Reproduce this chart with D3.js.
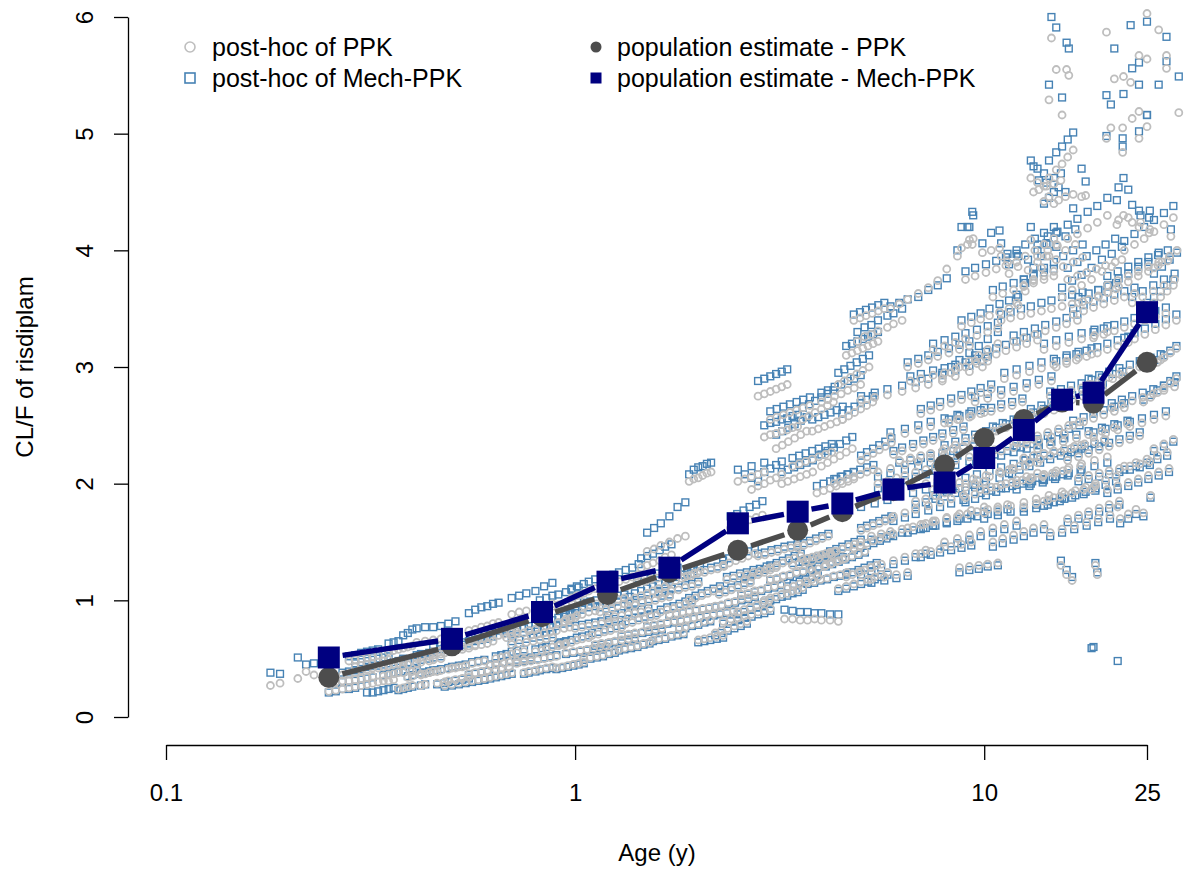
<!DOCTYPE html>
<html>
<head>
<meta charset="utf-8">
<script src="https://cdn.jsdelivr.net/npm/d3@7"></script>
<style>
  html, body { margin: 0; padding: 0; background: #ffffff; }
  svg { display: block; }
  text { font-family: "Liberation Sans", Arial, Helvetica, sans-serif; fill: #000; }
</style>
</head>
<body>
<svg id="chart" width="1184" height="870"></svg>
<script>
// Population estimates of CL/F by age bin
const popAge  = [0.25, 0.5, 0.83, 1.2, 1.7, 2.5, 3.5, 4.5, 6, 8, 10, 12.5, 15.5, 18.5, 25];
const popPPK  = [0.34, 0.61, 0.86, 1.05, 1.24, 1.43, 1.60, 1.76, 1.94, 2.16, 2.39, 2.55, 2.70, 2.69, 3.04];
const popMech = [0.51, 0.67, 0.90, 1.16, 1.28, 1.66, 1.76, 1.83, 1.95, 2.01, 2.22, 2.46, 2.72, 2.78, 3.47];

// Individual post-hoc estimates: one row per subject (observation ages, years)
const subjectAges = [
  [0.18,0.19],[0.21,0.22,0.23],
  [0.25,0.26,0.27,0.28,0.29,0.30],[0.27,0.28,0.29,0.30,0.31,0.32],[0.28,0.29,0.30,0.31,0.32,0.33],
  [0.31,0.32,0.33,0.34,0.35,0.36],[0.33,0.34,0.35,0.36,0.37,0.38],[0.35,0.36,0.37,0.38,0.39,0.40],
  [0.37,0.38,0.39,0.40,0.42,0.43],[0.39,0.40,0.42,0.43,0.44,0.46],[0.41,0.42,0.44,0.45,0.47,0.48],
  [0.41,0.43,0.45,0.47,0.49,0.51],[0.46,0.48,0.49,0.51,0.53,0.55],[0.50,0.52,0.54,0.56,0.58,0.60],
  [0.53,0.55,0.57,0.59,0.61,0.63],[0.55,0.57,0.59,0.61,0.63,0.65],[0.60,0.62,0.64,0.66,0.68,0.70],
  [0.64,0.66,0.68,0.70,0.72,0.75],[0.68,0.70,0.72,0.75,0.77,0.80],[0.70,0.73,0.76,0.80,0.84,0.88],
  [0.75,0.77,0.80,0.82,0.85,0.88],[0.80,0.83,0.85,0.88,0.91,0.94],[0.85,0.88,0.91,0.94,0.97,1.00],
  // 1-2 years
  [0.90,0.93,0.96,0.99,1.02,1.05],[0.92,0.95,0.98,1.01,1.04,1.08],[0.95,0.98,1.01,1.04,1.08,1.12],
  [0.98,1.01,1.05,1.08,1.12,1.16],[1.05,1.09,1.13,1.17,1.21,1.25],[1.10,1.14,1.18,1.22,1.26,1.30],
  [1.15,1.19,1.23,1.27,1.32,1.36],[1.20,1.24,1.28,1.33,1.38,1.43],[1.28,1.32,1.37,1.42,1.47,1.52],
  [1.33,1.38,1.43,1.48,1.53,1.58],[1.40,1.45,1.50,1.55,1.60,1.66],[1.45,1.50,1.55,1.61,1.66,1.72],
  [1.55,1.60,1.66,1.72,1.78,1.84],[1.62,1.68,1.74,1.80,1.86,1.93],[1.70,1.76,1.82,1.88,1.95,2.02],
  [1.80,1.86,1.93,2.00,2.07,2.14],[1.90,1.97,2.04,2.11,2.18,2.26],[1.90,1.95,2.00,2.05,2.10,2.15],
  [1.50,1.56,1.62,1.70,1.78,1.86],[2.00,2.07,2.14,2.22,2.30],[2.50,2.60,2.70,2.80,2.90],
  // 2-6 years
  [2.20,2.28,2.36,2.45,2.54,2.63],[2.25,2.33,2.41,2.50,2.59,2.68],[2.30,2.38,2.47,2.56,2.65,2.75],
  [2.40,2.49,2.58,2.67,2.77,2.87],[2.50,2.59,2.68,2.78,2.88,2.98],[2.60,2.70,2.80,2.90,3.00,3.10],
  [2.70,2.80,2.90,3.00,3.10,3.20],[2.80,2.90,3.00,3.10,3.20,3.30],[3.00,3.11,3.22,3.33,3.44,3.56],
  [3.10,3.21,3.32,3.44,3.56,3.68],[3.30,3.42,3.54,3.66,3.79,3.92],[3.50,3.62,3.75,3.88,4.02,4.16],
  [3.60,3.73,3.86,4.00,4.14,4.28],[3.80,3.93,4.07,4.21,4.36,4.51],[4.00,4.14,4.29,4.44,4.60,4.76],
  [4.20,4.35,4.50,4.66,4.82,4.99],[4.40,4.55,4.71,4.88,5.05,5.23],[4.60,4.76,4.93,5.10,5.28,5.46],
  [4.80,4.97,5.14,5.32,5.51,5.70],[5.00,5.17,5.35,5.54,5.73,5.93],[3.20,3.31,3.43,3.55,3.68,3.81],
  [3.80,3.93,4.07,4.21,4.36,4.51],[4.50,4.66,4.82,4.99,5.16,5.34],[5.00,5.17,5.35,5.54,5.73,5.93],
  [3.25,3.40,3.55,3.70,3.85,4.00,4.20,4.40],
  // 6-30 years
  [5.9,6.2,6.5,6.9,7.3,7.7,8.1,8.6,9.1,9.4],[8.8,9.2,9.35,9.9,10.4,10.9,11.0,11.4],
  [12.0,12.6,13.2,13.8,14.4,15.0],[4.9,5.1,5.3,5.5,5.8,6.0,6.3],[7.9,8.3,8.7,9.2,9.7,10.2,10.8],
  [8.8,9.3,9.8,10.3,10.9,11.5,12.1],[11.0,11.6,12.3,13.0,13.8,14.6,15.5,16.4,17.4],
  [5.0,5.4,5.8,6.3,6.8,7.3,7.9,8.5,9.2,9.9],[5.9,6.4,6.9,7.4,8.0,8.6,9.3,10.0],
  [9.5,10.2,11.0,11.8,12.7,13.6,14.6],[5.0,5.4,5.8,6.2,6.7,7.2,7.7],[5.5,5.9,6.4,6.9,7.4,8.0,8.6],
  [6.5,7.0,7.5,8.1,8.7,9.3,10.0],[7.5,8.1,8.7,9.4,10.1,10.9,11.7],[8.5,9.2,9.9,10.6,11.4,12.3,13.2],
  [10.0,10.8,11.6,12.5,13.4,14.4,15.5],[12.0,12.9,13.9,14.9,16.0,17.2],[11.0,11.8,12.7,13.6,14.6,15.7],
  [5.0,5.3,5.6,6.0,6.4,6.8,7.2],[5.3,5.7,6.1,6.5],[8.7,9.2,9.7,10.2,10.8],[15.4,15.9,16.4],
  [13.5,14.5,15.6,16.8,18.0,19.4,20.8,22.4],[11.2,12.0,12.9,13.8,14.8,15.9,17.0,18.3],
  [14.0,15.0,16.1,17.3,18.6,20.0],[13.0,14.0,15.0,16.1,17.3,18.6,20.0],
  [18.5,19.8,21.2,22.7,24.3,26.0,27.8],[22.0,23.5,25.0,26.5,28.0],[21.5,22.5,23.5],
  [6.0,6.4,6.8,7.3,7.8,8.3,8.9],[8.0,8.6,9.2,9.8,10.5,11.2,12.0],[9.0,9.6,10.3,11.0,11.8,12.6,13.5],
  [12.5,13.4,14.3,15.3,16.4,17.5,18.7],[14.5,15.5,16.6,17.8,19.0,20.3],
  [18.3,18.5],[21.2],[18.7,18.9],
  [13.0,13.5,14.0,14.4,15.0,15.5,16.0,16.5],[14.0,14.4,14.8,15.2,15.8,16.5,17.3,17.7],
  [13.2,13.6,14.2,14.8,15.4],
  [12.5,13.2,14.0,14.8,15.6,16.5,17.4],[16.0,16.9,17.8,18.8,19.8,20.9],[12.0,12.6,13.0,13.3,14.0,14.8],
  [17.0,18.0,19.0,20.0,21.0],
  [25.0,26.0,27.0,28.0,29.0],[26.0,27.2,28.4,29.6],[25.5,26.5,27.5,28.5,29.5],
  [24.5,25.5,26.5,27.5,28.5,29.5],[26.0,27.5,29.0],[24.5,25.5],
  [14.6,15.0],[15.9,16.1],[14.4,15.5],[25.0],[22.8,23.0],[19.9,20.8],[26.7,27.9],[23.9,25.0],
  [27.9,29.9],[21.9,23.9],[20.4,21.8],[23.9,25.0],[19.9,21.8],
  [21.1,21.3,21.9,22.5,23.0],[23.9,24.1,25.3,25.4,28.6],
  // further infants
  [0.26,0.27,0.28,0.29,0.30,0.31,0.32],[0.29,0.30,0.31,0.32,0.33,0.34,0.35],[0.34,0.35,0.36,0.37,0.38,0.40,0.41],
  [0.38,0.39,0.41,0.42,0.44,0.45,0.47],[0.42,0.44,0.45,0.47,0.49,0.51,0.53],[0.45,0.47,0.49,0.51,0.53,0.55,0.57],
  [0.48,0.50,0.52,0.54,0.56,0.58,0.60],[0.55,0.57,0.59,0.61,0.64,0.66,0.69],[0.58,0.60,0.62,0.65,0.67,0.70,0.72],
  [0.62,0.64,0.67,0.69,0.72,0.75,0.78],[0.70,0.73,0.76,0.79,0.82,0.85,0.88],[0.72,0.75,0.78,0.81,0.84,0.87,0.90],
  [0.78,0.81,0.84,0.87,0.90,0.94,0.97],[0.82,0.85,0.88,0.91,0.95,0.98,1.02],
  // further 1-2 years
  [0.95,0.99,1.03,1.07,1.11,1.15,1.19],[1.00,1.04,1.08,1.12,1.16,1.21,1.25],[1.05,1.09,1.13,1.18,1.22,1.27,1.32],
  [1.12,1.16,1.21,1.25,1.30,1.35,1.40],[1.20,1.25,1.30,1.35,1.40,1.45,1.51],[1.30,1.35,1.40,1.46,1.51,1.57,1.63],
  [1.35,1.40,1.46,1.51,1.57,1.63,1.70],[1.42,1.48,1.53,1.59,1.65,1.72,1.78],[1.50,1.56,1.62,1.68,1.75,1.81,1.88],
  [1.60,1.66,1.72,1.79,1.86,1.93,2.00],[1.70,1.77,1.83,1.90,1.98,2.05,2.13],[1.85,1.92,1.99,2.07,2.15,2.23,2.31],
  [1.95,2.02,2.10,2.18,2.26,2.35,2.44],
  // further 2-6 years
  [2.20,2.28,2.37,2.46,2.55,2.65,2.75],[2.35,2.44,2.53,2.63,2.73,2.83,2.94],[2.55,2.65,2.75,2.85,2.96,3.07,3.19],
  [2.80,2.91,3.02,3.13,3.25,3.37,3.50],[3.00,3.11,3.23,3.35,3.48,3.61,3.75],[3.40,3.53,3.66,3.80,3.94,4.09,4.24],
  [3.70,3.84,3.98,4.13,4.29,4.45,4.62],[4.10,4.25,4.41,4.58,4.75,4.93,5.11],[3.00,3.11,3.23,3.35,3.48,3.61,3.75],
  [3.40,3.53,3.66,3.80,3.94,4.09,4.24],[4.00,4.15,4.31,4.47,4.64,4.81,4.99],[4.30,4.46,4.63,4.80,4.98,5.17,5.36],
  [4.80,4.98,5.17,5.36,5.56,5.77,5.99],
  [2.3,2.4,2.5,2.6,2.7,2.8,2.9,3.0],[2.9,3.0,3.1,3.2,3.3,3.4,3.5,3.6],[3.6,3.7,3.8,3.9,4.0,4.1,4.2,4.3],
  [4.4,4.6,4.8,5.0,5.2,5.4,5.6,5.8],
  [2.9,3.0,3.1,3.2,3.3,3.4,3.5],[3.9,4.05,4.2,4.35,4.5,4.65,4.8],[4.6,4.75,4.9,5.05,5.2,5.35,5.5],
  // further 6-30 years
  [5.5,5.8,6.1,6.4,6.8,7.2,7.6,8.0],[6.0,6.3,6.7,7.1,7.5,7.9,8.4,8.9],[6.8,7.2,7.6,8.0,8.5,9.0,9.5,10.0],
  [7.0,7.4,7.8,8.3,8.8,9.3,9.8,10.4],[8.0,8.5,9.0,9.5,10.1,10.7,11.3,12.0],[9.0,9.5,10.1,10.7,11.3,12.0,12.7,13.5],
  [10.5,11.1,11.8,12.5,13.2,14.0,14.8,15.7],[11.5,12.2,12.9,13.7,14.5,15.4,16.3,17.3],
  [13.0,13.8,14.6,15.5,16.4,17.4,18.4,19.5],[14.0,14.8,15.7,16.7,17.7,18.7,19.8,21.0],
  [16.0,17.0,18.0,19.1,20.2,21.4,22.7,24.0],[18.0,19.1,20.2,21.4,22.7,24.0,25.5,27.0],
  [20.0,21.2,22.5,23.8,25.2,26.7,28.3],[15.0,15.9,16.8,17.8,18.9,20.0,21.2,22.5],
  [18.5,19.6,20.8,22.0,23.3,24.7,26.2,27.8],[20.0,21.2,22.5,23.8,25.2,26.7],
  [9.5,10.1,10.7,11.3,12.0,12.7,13.5],[10.5,11.1,11.8,12.5,13.2,14.0,14.8],[6.5,6.9,7.3,7.7,8.2,8.7,9.2],
  [7.0,7.4,7.8,8.3,8.8,9.3],[10.5,11.1,11.8,12.5,13.2,14.0],[16.5,17.5,18.5,19.6,20.8,22.0],
  [22.0,23.3,24.7,26.2,27.8,29.5],[12.0,12.7,13.5,14.3,15.2,16.1,17.1],
  [11.5,12.1,12.8,13.5,14.2,15.0,15.8,16.7],[13.5,14.3,15.1,16.0,16.9,17.9,18.9,20.0],
  [15.5,16.4,17.3,18.3,19.4,20.5,21.7],[19.0,20.1,21.3,22.5,23.8,25.2,26.6,28.1],
  [22.0,23.3,24.6,26.0,27.5,29.0],
  [7.2,7.6,8.1,8.6,9.1,9.6,10.2,10.8,11.4],[9.8,10.4,11.0,11.7,12.4,13.1,13.9,14.7,15.6],
  [6.2,6.6,7.0,7.4,7.9,8.4,8.9,9.4,10.0],[12.5,13.2,14.0,14.8,15.7,16.6,17.6,18.6,19.7],
  [8.2,8.7,9.2,9.8,10.4,11.0,11.7,12.4],[14.5,15.4,16.3,17.3,18.3,19.4,20.6,21.8],
  [6.6,7.0,7.5,8.0,8.5,9.0,9.6,10.2],[11.8,12.5,13.3,14.1,15.0,15.9,16.9],
  [16.5,17.5,18.5,19.6,20.8,22.0,23.3],[7.5,8.0,8.5,9.0,9.6,10.2,10.8],
  [17.0,18.0,19.1,20.2,21.4,22.7,24.0,25.4],[16.0,17.0,18.0,19.1,20.2,21.4],
  [20.5,21.7,23.0,24.4,25.9,27.5,29.2],[23.0,24.4,25.9,27.5,29.2],
  [5.3,5.6,5.9,6.3,6.7,7.1,7.5],[9.0,9.5,10.1,10.7,11.3,12.0]
];

// Post-hoc CL/F from the PPK model, same subject order
const clPPK = [
  [0.27,0.29],[0.33,0.39,0.36],
  [.22,.23,.24,.25,.26,.27],[.36,.37,.38,.40,.41,.42],[.48,.49,.50,.51,.52,.53],
  [.28,.29,.30,.31,.31,.32],[.42,.43,.44,.45,.46,.47],[.56,.57,.58,.59,.60,.61],
  [.24,.25,.26,.27,.27,.28],[.34,.35,.36,.37,.38,.39],[.50,.51,.52,.53,.54,.55],
  [.64,.65,.66,.67,.68,.70],[.29,.30,.31,.32,.33,.34],[.42,.43,.44,.46,.47,.48],
  [.58,.59,.61,.62,.63,.65],[.74,.75,.77,.78,.80,.81],[.33,.34,.35,.36,.37,.38],
  [.50,.51,.52,.54,.55,.56],[.68,.69,.71,.72,.74,.75],[.88,.90,.91,.93,.95,.97],
  [.38,.39,.40,.41,.42,.43],[.56,.57,.58,.60,.61,.62],[.78,.79,.81,.82,.84,.85],
  // 1-2 years
  [.42,.43,.44,.45,.46,.47],[.62,.63,.64,.66,.67,.68],[.84,.85,.87,.88,.90,.91],
  [1.02,1.04,1.06,1.08,1.10,1.12],[.50,.51,.52,.53,.55,.56],[.70,.71,.73,.74,.76,.77],
  [.90,.92,.93,.95,.97,.99],[1.12,1.14,1.16,1.18,1.20,1.22],[.58,.59,.60,.61,.63,.64],
  [.80,.81,.83,.84,.86,.87],[1.02,1.04,1.06,1.08,1.10,1.12],[1.28,1.30,1.32,1.34,1.37,1.39],
  [.66,.67,.68,.70,.71,.72],[.90,.92,.93,.95,.97,.98],[1.15,1.17,1.19,1.21,1.23,1.25],
  [.76,.77,.79,.80,.82,.83],[1.00,1.02,1.04,1.06,1.08,1.10],[2.02,2.04,2.05,2.07,2.09,2.10],
  [1.42,1.44,1.47,1.50,1.53,1.55],[.66,.67,.68,.69,.70],[2.02,2.04,2.06,2.08,2.10],
  // 2-6 years
  [.72,.74,.76,.78,.80,.82],[1.05,1.07,1.09,1.11,1.13,1.15],[1.30,1.32,1.34,1.36,1.38,1.40],
  [1.62,1.64,1.66,1.69,1.71,1.73],[.90,.92,.94,.96,.98,1.00],[1.18,1.20,1.22,1.24,1.26,1.28],
  [1.95,1.98,2.00,2.03,2.05,2.08],[2.75,2.77,2.79,2.81,2.83,2.85],[1.28,1.30,1.32,1.34,1.36,1.38],
  [2.30,2.33,2.36,2.39,2.42,2.45],[1.10,1.12,1.14,1.16,1.18,1.20],[1.45,1.47,1.49,1.51,1.53,1.55],
  [2.55,2.58,2.61,2.64,2.67,2.70],[1.25,1.27,1.29,1.31,1.33,1.35],[2.15,2.18,2.21,2.24,2.27,2.30],
  [1.40,1.42,1.44,1.46,1.48,1.50],[2.85,2.88,2.91,2.94,2.97,3.00],[1.20,1.22,1.24,1.26,1.28,1.30],
  [3.40,3.42,3.44,3.46,3.48,3.50],[1.60,1.62,1.64,1.66,1.68,1.70],[2.00,2.02,2.04,2.06,2.08,2.10],
  [2.45,2.47,2.49,2.51,2.53,2.55],[2.55,2.58,2.61,2.64,2.67,2.70],[2.20,2.23,2.26,2.29,2.32,2.35],
  [.84,.84,.83,.83,.84,.83,.83,.82],
  // 6-30 years
  [3.50,3.54,3.58,3.63,3.68,3.74,3.84,3.95,4.05,4.10],[4.02,4.09,4.05,3.98,4.00,4.02,3.95,3.90],
  [3.55,3.65,3.75,3.85,3.95,4.05],[3.22,3.26,3.28,3.31,3.34,3.37,3.40],[2.90,2.95,3.00,3.05,3.10,3.15,3.20],
  [3.35,3.38,3.41,3.44,3.47,3.50,3.53],[3.40,3.42,3.44,3.46,3.48,3.50,3.52,3.54,3.56],
  [2.72,2.74,2.76,2.79,2.82,2.85,2.88,2.92,2.96,3.00],[2.40,2.43,2.46,2.49,2.52,2.55,2.58,2.61],
  [2.70,2.73,2.76,2.79,2.82,2.85,2.88],[1.85,1.88,1.91,1.94,1.97,2.00,2.03],[2.10,2.13,2.16,2.19,2.22,2.25,2.28],
  [1.62,1.65,1.68,1.71,1.74,1.77,1.80],[1.95,1.98,2.01,2.04,2.07,2.10,2.13],[2.20,2.23,2.26,2.29,2.32,2.35,2.38],
  [1.75,1.78,1.81,1.84,1.87,1.90,1.93],[2.00,2.03,2.06,2.09,2.12,2.15],[2.28,2.31,2.34,2.37,2.40,2.43],
  [1.25,1.28,1.31,1.34,1.37,1.40,1.43],[1.18,1.20,1.22,1.24],[1.28,1.29,1.30,1.31,1.32],[1.30,1.22,1.17],
  [2.30,2.33,2.36,2.39,2.42,2.45,2.48,2.51],[2.90,2.93,2.96,2.99,3.02,3.05,3.08,3.11],
  [3.15,3.18,3.21,3.24,3.27,3.30],[2.05,2.08,2.11,2.14,2.17,2.20,2.23],
  [2.40,2.43,2.46,2.49,2.52,2.55,2.58],[2.15,2.18,2.21,2.24,2.27],[1.70,1.74,1.78],
  [1.72,1.75,1.78,1.81,1.84,1.87,1.90],[1.50,1.53,1.56,1.59,1.62,1.65,1.68],[2.00,2.03,2.06,2.09,2.12,2.15,2.18],
  [1.80,1.83,1.86,1.89,1.92,1.95,1.98],[1.58,1.61,1.64,1.67,1.70,1.73],
  [1.95,1.97],[1.80],[1.30,1.22],
  [4.62,4.58,4.55,4.62,4.69,4.74,4.80,4.86],[4.42,4.46,4.40,4.43,4.46,4.48,4.46,4.47],
  [4.50,4.52,4.55,4.57,4.60],
  [3.70,3.74,3.78,3.82,3.86,3.90,3.94],[3.75,3.78,3.81,3.84,3.87,3.90],[3.90,3.95,4.09,4.00,4.05,4.10],
  [3.55,3.58,3.61,3.64,3.67],
  [3.50,3.55,3.60,3.65,3.70],[3.85,3.90,3.95,4.00],[3.00,3.04,3.08,3.12,3.16],
  [2.70,2.74,2.78,2.82,2.86,2.90],[2.30,2.34,2.38],[1.75,1.90],
  [5.82,5.55],[5.55,5.50],[5.29,5.16],[6.03],[5.44,5.13],[5.87,5.47],[5.89,5.67],[5.67,5.64],
  [5.56,5.18],[5.49,5.19],[5.05,4.84],[4.96,5.06],[4.96,5.05],
  [4.22,4.26,4.30,4.28,4.24],[4.20,4.24,4.15,4.18,4.12],
  // further infants
  [.30,.31,.31,.32,.33,.34,.35],[.43,.44,.45,.46,.47,.48,.49],[.35,.36,.37,.38,.38,.39,.40],
  [.44,.45,.46,.47,.48,.49,.50],[.37,.38,.39,.40,.41,.42,.43],[.56,.57,.58,.59,.60,.61,.62],
  [.27,.28,.29,.30,.31,.32,.33],[.37,.38,.39,.40,.41,.42,.43],[.66,.67,.68,.70,.71,.72,.73],
  [.44,.45,.46,.47,.48,.49,.50],[.62,.63,.64,.65,.66,.67,.68],[.46,.47,.48,.49,.50,.51,.52],
  [.70,.71,.72,.73,.74,.76,.77],[.92,.93,.95,.96,.98,.99,1.01],
  // further 1-2 years
  [.55,.56,.57,.58,.59,.60,.61],[.76,.77,.78,.79,.80,.81,.82],[.95,.96,.97,.98,1.00,1.01,1.02],
  [.62,.63,.64,.65,.66,.67,.68],[.85,.86,.87,.88,.89,.90,.91],[.70,.71,.72,.73,.74,.75,.76],
  [.95,.96,.98,.99,1.00,1.02,1.03],[1.15,1.16,1.18,1.19,1.21,1.22,1.24],[.78,.79,.80,.81,.82,.83,.84],
  [1.05,1.06,1.08,1.09,1.11,1.12,1.14],[.88,.89,.90,.91,.92,.93,.94],[1.20,1.21,1.23,1.24,1.26,1.27,1.29],
  [.85,.86,.87,.88,.89,.90,.91],
  // further 2-6 years
  [.95,.96,.98,.99,1.01,1.02,1.04],[1.18,1.19,1.21,1.22,1.24,1.25,1.27],[1.05,1.06,1.08,1.09,1.11,1.12,1.14],
  [1.38,1.39,1.41,1.42,1.44,1.45,1.47],[1.18,1.19,1.21,1.22,1.24,1.25,1.27],[1.30,1.31,1.33,1.34,1.36,1.37,1.39],
  [1.15,1.16,1.18,1.19,1.21,1.22,1.24],[1.30,1.32,1.34,1.36,1.38,1.40,1.42],[2.55,2.57,2.59,2.61,2.63,2.65,2.67],
  [2.15,2.17,2.19,2.21,2.23,2.25,2.27],[2.70,2.72,2.75,2.77,2.80,2.82,2.85],[2.00,2.02,2.04,2.06,2.08,2.10,2.12],
  [1.45,1.47,1.49,1.51,1.53,1.55,1.57],
  [.82,.84,.85,.87,.88,.90,.91,.93],[1.00,1.02,1.03,1.05,1.06,1.08,1.09,1.11],[1.35,1.36,1.37,1.38,1.39,1.40,1.41,1.42],
  [1.10,1.12,1.14,1.16,1.18,1.20,1.22,1.24],
  [2.40,2.42,2.43,2.45,2.46,2.48,2.49],[1.92,1.94,1.96,1.98,2.00,2.02,2.04],[3.10,3.12,3.14,3.16,3.18,3.20,3.22],
  // further 6-30 years
  [2.00,2.02,2.05,2.07,2.10,2.12,2.15,2.17],[2.25,2.28,2.31,2.34,2.37,2.40,2.43,2.46],[1.85,1.87,1.90,1.92,1.95,1.97,2.00,2.02],
  [2.60,2.63,2.66,2.69,2.72,2.75,2.78,2.81],[2.30,2.33,2.36,2.39,2.42,2.45,2.48,2.51],[1.88,1.91,1.94,1.97,2.00,2.03,2.06,2.09],
  [2.45,2.48,2.51,2.54,2.57,2.60,2.63,2.66],[2.12,2.15,2.18,2.21,2.24,2.27,2.30,2.33],
  [2.60,2.63,2.66,2.69,2.72,2.75,2.78,2.81],[1.85,1.88,1.91,1.94,1.97,2.00,2.03,2.06],
  [2.20,2.23,2.26,2.29,2.32,2.35,2.38,2.41],[2.85,2.88,2.91,2.94,2.97,3.00,3.03,3.06],
  [1.95,1.98,2.01,2.04,2.07,2.10,2.13],[3.00,3.03,3.06,3.09,3.12,3.15,3.18,3.21],
  [3.25,3.28,3.31,3.34,3.37,3.40,3.43,3.46],[3.70,3.74,3.78,3.82,3.86,3.90],
  [3.05,3.08,3.11,3.14,3.17,3.20,3.23],[3.60,3.63,3.66,3.69,3.72,3.75,3.78],[3.00,3.03,3.06,3.09,3.12,3.15,3.18],
  [1.40,1.42,1.44,1.46,1.48,1.50],[1.50,1.53,1.56,1.59,1.62,1.65],[2.50,2.53,2.56,2.59,2.62,2.65],
  [3.20,3.24,3.28,3.32,3.36,3.40],[2.35,2.38,2.41,2.44,2.47,2.50,2.53],
  [3.80,3.86,3.83,3.90,3.95,3.92,4.00,4.05],[3.95,4.00,4.04,4.10,4.14,4.19,4.24,4.30],
  [3.60,3.66,3.70,3.75,3.82,3.86,3.92],[3.60,3.64,3.69,3.73,3.78,3.82,3.87,3.91],
  [4.00,4.05,4.10,4.16,4.22,4.28],
  [1.66,1.68,1.70,1.72,1.74,1.76,1.78,1.80,1.82],[1.95,1.97,1.99,2.01,2.03,2.05,2.07,2.09,2.11],
  [2.20,2.22,2.24,2.26,2.28,2.30,2.32,2.34,2.36],[2.22,2.24,2.26,2.28,2.30,2.32,2.34,2.36,2.38],
  [2.52,2.55,2.57,2.60,2.62,2.65,2.67,2.70],[2.75,2.77,2.80,2.82,2.85,2.87,2.90,2.92],
  [2.88,2.90,2.93,2.95,2.98,3.00,3.03,3.05],[3.22,3.25,3.28,3.31,3.34,3.37,3.40],
  [3.45,3.48,3.51,3.54,3.57,3.60,3.63],[3.15,3.18,3.21,3.24,3.27,3.30,3.33],
  [2.05,2.07,2.09,2.11,2.13,2.15,2.17,2.19],[1.70,1.73,1.76,1.79,1.82,1.85],
  [2.65,2.68,2.71,2.74,2.77,2.80,2.83],[3.55,3.60,3.65,3.70,3.75],
  [1.55,1.57,1.59,1.61,1.63,1.65,1.67],[3.75,3.78,3.81,3.84,3.87,3.90]
];

// Post-hoc CL/F from the Mech-PPK model, same subject order
const clMech = [
  [0.38,0.37],[0.51,0.45,0.46],
  [.21,.22,.24,.24,.25,.27],[.38,.39,.40,.41,.43,.44],[.52,.53,.55,.56,.57,.58],
  [.21,.21,.22,.23,.24,.25],[.44,.45,.46,.47,.48,.50],[.63,.64,.65,.70,.72,.75],
  [.23,.24,.25,.26,.27,.28],[.35,.36,.37,.38,.39,.40],[.53,.54,.55,.56,.58,.59],
  [.76,.77,.77,.78,.80,.82],[.28,.29,.30,.31,.32,.33],[.43,.44,.45,.47,.48,.49],
  [.62,.63,.65,.66,.67,.69],[.89,.92,.94,.95,.97,.98],[.32,.33,.34,.35,.36,.37],
  [.52,.53,.54,.56,.57,.58],[.72,.73,.75,.76,.78,.79],[1.02,1.04,1.06,1.08,1.12,1.15],
  [.37,.38,.39,.40,.41,.42],[.58,.59,.60,.62,.63,.64],[.82,.83,.85,.86,.88,.89],
  // 1-2 years
  [.41,.42,.43,.44,.45,.46],[.64,.65,.66,.68,.69,.70],[.88,.89,.91,.92,.94,.95],
  [1.10,1.12,1.14,1.16,1.18,1.21],[.49,.50,.51,.52,.54,.55],[.72,.73,.75,.76,.78,.79],
  [.94,.96,.97,.99,1.01,1.03],[1.20,1.22,1.24,1.26,1.28,1.31],[.57,.58,.59,.60,.62,.63],
  [.82,.83,.85,.86,.88,.89],[1.06,1.08,1.10,1.12,1.14,1.16],[1.36,1.38,1.40,1.43,1.46,1.48],
  [.65,.66,.67,.69,.70,.71],[.92,.94,.95,.97,.99,1.00],[1.18,1.20,1.22,1.24,1.27,1.29],
  [.75,.76,.78,.79,.81,.82],[1.02,1.04,1.06,1.08,1.10,1.12],[2.08,2.12,2.14,2.15,2.17,2.18],
  [1.58,1.62,1.66,1.72,1.80,1.84],[.64,.65,.66,.67,.68],[2.12,2.08,2.15,2.02,2.18],
  // 2-6 years
  [.70,.72,.74,.76,.78,.80],[1.07,1.09,1.11,1.13,1.15,1.17],[1.34,1.36,1.38,1.40,1.42,1.45],
  [1.72,1.74,1.77,1.80,1.82,1.85],[.88,.90,.92,.94,.96,.98],[1.20,1.22,1.24,1.26,1.28,1.30],
  [2.05,2.08,2.10,2.13,2.16,2.19],[2.88,2.90,2.92,2.94,2.96,2.98],[1.30,1.32,1.34,1.36,1.38,1.40],
  [2.42,2.45,2.48,2.51,2.54,2.57],[1.12,1.14,1.16,1.18,1.20,1.22],[1.47,1.49,1.51,1.53,1.55,1.57],
  [2.65,2.68,2.71,2.74,2.77,2.80],[1.27,1.29,1.31,1.33,1.35,1.37],[2.25,2.28,2.31,2.34,2.37,2.40],
  [1.42,1.44,1.46,1.48,1.50,1.52],[2.95,2.98,3.01,3.04,3.07,3.10],[1.22,1.24,1.26,1.28,1.30,1.32],
  [3.45,3.47,3.49,3.51,3.53,3.55],[1.62,1.64,1.66,1.68,1.70,1.72],[2.10,2.12,2.14,2.16,2.18,2.20],
  [2.55,2.57,2.59,2.61,2.63,2.66],[2.60,2.63,2.66,2.69,2.72,2.75],[2.24,2.27,2.30,2.33,2.36,2.39],
  [.92,.91,.90,.90,.89,.89,.88,.88],
  // 6-30 years
  [3.52,3.55,3.58,3.60,3.66,3.70,3.76,4.00,4.20,4.30],[4.20,4.20,4.33,4.06,4.15,4.17,4.06,3.97],
  [3.62,3.72,3.85,3.95,4.05,4.15],[3.30,3.34,3.36,3.40,3.44,3.46,3.50],[2.95,3.00,3.06,3.12,3.18,3.24,3.30],
  [3.40,3.43,3.46,3.50,3.54,3.57,3.60],[3.45,3.47,3.50,3.52,3.55,3.57,3.60,3.62,3.64],
  [2.75,2.78,2.81,2.84,2.87,2.90,2.93,2.97,3.01,3.05],[2.44,2.47,2.50,2.53,2.56,2.59,2.62,2.65],
  [2.74,2.77,2.80,2.83,2.86,2.89,2.92],[1.80,1.83,1.86,1.89,1.92,1.95,1.98],[2.06,2.09,2.12,2.15,2.18,2.21,2.24],
  [1.58,1.61,1.64,1.67,1.70,1.73,1.76],[1.90,1.93,1.96,1.99,2.02,2.05,2.08],[2.16,2.19,2.22,2.25,2.28,2.31,2.34],
  [1.70,1.73,1.76,1.79,1.82,1.85,1.88],[1.95,1.98,2.01,2.04,2.07,2.10],[2.24,2.27,2.30,2.33,2.36,2.39],
  [1.22,1.25,1.28,1.31,1.34,1.37,1.40],[1.15,1.17,1.19,1.21],[1.24,1.26,1.27,1.29,1.30],[1.34,1.26,1.20],
  [2.33,2.36,2.39,2.42,2.45,2.48,2.51,2.54],[2.95,2.98,3.01,3.04,3.07,3.10,3.13,3.16],
  [3.20,3.23,3.26,3.29,3.32,3.35],[2.00,2.03,2.06,2.09,2.12,2.15,2.18],
  [2.44,2.47,2.50,2.53,2.56,2.59,2.62],[2.12,2.15,2.18,2.21,2.24],[1.66,1.70,1.74],
  [1.68,1.71,1.74,1.77,1.80,1.83,1.86],[1.46,1.49,1.52,1.55,1.58,1.61,1.64],[2.05,2.08,2.11,2.14,2.17,2.20,2.23],
  [1.76,1.79,1.82,1.85,1.88,1.91,1.94],[1.55,1.58,1.61,1.64,1.67,1.70],
  [0.59,0.60],[0.48],[1.32,1.24],
  [4.77,4.70,4.66,4.77,4.84,4.89,4.95,5.01],[4.40,4.45,4.50,4.54,4.50,4.36,4.70,4.59],
  [4.72,4.60,4.58,4.62,4.66],
  [3.75,3.80,3.85,3.90,3.95,4.00,4.05],[3.85,3.90,3.95,4.00,4.05,4.10],[4.00,4.05,4.20,4.10,4.15,4.20],
  [3.60,3.63,3.66,3.69,3.72],
  [3.55,3.60,3.65,3.70,3.75],[3.80,3.86,3.92,3.98],[3.02,3.06,3.10,3.14,3.18],
  [2.72,2.76,2.80,2.84,2.88,2.92],[2.28,2.32,2.36],[1.72,1.88],
  [6.00,5.91],[5.78,5.73],[5.42,5.31],[5.96],[5.93,5.56],[5.33,5.73],[5.42,5.83],[5.61,5.16],
  [5.62,5.49],[5.34,5.42],[5.25,4.96],[5.02,5.16],[4.98,4.89],
  [4.43,4.54,4.62,4.52,4.39],[4.34,4.30,4.28,4.34,4.18],
  // further infants
  [.29,.30,.31,.31,.32,.33,.34],[.46,.47,.48,.49,.50,.51,.52],[.36,.37,.38,.39,.39,.40,.41],
  [.46,.47,.48,.49,.50,.51,.52],[.38,.39,.40,.41,.42,.43,.44],[.60,.61,.62,.63,.64,.65,.66],
  [.26,.27,.28,.29,.30,.31,.32],[.36,.37,.38,.39,.40,.41,.42],[.70,.71,.72,.74,.75,.76,.77],
  [.45,.46,.47,.48,.49,.50,.51],[.65,.66,.67,.68,.69,.70,.71],[.47,.48,.49,.50,.51,.52,.53],
  [.74,.75,.76,.77,.78,.80,.81],[1.00,1.02,1.04,1.05,1.07,1.09,1.11],
  // further 1-2 years
  [.54,.55,.56,.57,.58,.59,.60],[.78,.79,.80,.81,.82,.83,.84],[.98,.99,1.00,1.01,1.03,1.04,1.05],
  [.61,.62,.63,.64,.65,.66,.67],[.87,.88,.89,.90,.91,.92,.93],[.69,.70,.71,.72,.73,.74,.75],
  [.97,.98,1.00,1.01,1.02,1.04,1.05],[1.19,1.20,1.22,1.23,1.25,1.26,1.28],[.77,.78,.79,.80,.81,.82,.83],
  [1.07,1.08,1.10,1.11,1.13,1.14,1.16],[.87,.88,.89,.90,.91,.92,.93],[1.22,1.23,1.25,1.26,1.28,1.29,1.31],
  [.84,.85,.86,.87,.88,.89,.90],
  // further 2-6 years
  [.94,.95,.97,.98,1.00,1.01,1.03],[1.20,1.21,1.23,1.24,1.26,1.27,1.29],[1.04,1.05,1.07,1.08,1.10,1.11,1.13],
  [1.40,1.41,1.43,1.44,1.46,1.47,1.49],[1.17,1.18,1.20,1.21,1.23,1.24,1.26],[1.32,1.33,1.35,1.36,1.38,1.39,1.41],
  [1.14,1.15,1.17,1.18,1.20,1.21,1.23],[1.29,1.31,1.33,1.35,1.37,1.39,1.41],[2.62,2.64,2.66,2.68,2.70,2.72,2.74],
  [2.22,2.24,2.26,2.28,2.30,2.32,2.34],[2.78,2.80,2.83,2.85,2.88,2.90,2.93],[2.04,2.06,2.08,2.10,2.12,2.14,2.16],
  [1.43,1.45,1.47,1.49,1.51,1.53,1.55],
  [.80,.82,.83,.85,.86,.88,.89,.91],[.98,1.00,1.01,1.03,1.04,1.06,1.07,1.09],[1.33,1.34,1.35,1.36,1.37,1.38,1.39,1.40],
  [1.08,1.10,1.12,1.14,1.16,1.18,1.20,1.22],
  [2.50,2.52,2.53,2.55,2.56,2.58,2.59],[1.98,2.00,2.02,2.04,2.06,2.08,2.10],[3.18,3.20,3.22,3.24,3.26,3.28,3.30],
  // further 6-30 years
  [1.96,1.98,2.01,2.03,2.06,2.08,2.11,2.13],[2.28,2.31,2.34,2.37,2.40,2.43,2.46,2.49],[1.82,1.84,1.87,1.89,1.92,1.94,1.97,1.99],
  [2.64,2.67,2.70,2.73,2.76,2.79,2.82,2.85],[2.33,2.36,2.39,2.42,2.45,2.48,2.51,2.54],[1.84,1.87,1.90,1.93,1.96,1.99,2.02,2.05],
  [2.49,2.52,2.55,2.58,2.61,2.64,2.67,2.70],[2.09,2.12,2.15,2.18,2.21,2.24,2.27,2.30],
  [2.64,2.67,2.70,2.73,2.76,2.79,2.82,2.85],[1.81,1.84,1.87,1.90,1.93,1.96,1.99,2.02],
  [2.23,2.26,2.29,2.32,2.35,2.38,2.41,2.44],[2.90,2.93,2.96,2.99,3.02,3.05,3.08,3.11],
  [1.92,1.95,1.98,2.01,2.04,2.07,2.10],[3.05,3.08,3.11,3.14,3.17,3.20,3.23,3.26],
  [3.30,3.33,3.36,3.39,3.42,3.45,3.48,3.51],[3.78,3.82,3.86,3.90,3.94,3.98],
  [3.10,3.13,3.16,3.19,3.22,3.25,3.28],[3.66,3.69,3.72,3.75,3.78,3.81,3.84],[3.04,3.07,3.10,3.13,3.16,3.19,3.22],
  [1.37,1.39,1.41,1.43,1.45,1.47],[1.46,1.49,1.52,1.55,1.58,1.61],[2.54,2.57,2.60,2.63,2.66,2.69],
  [3.25,3.29,3.33,3.37,3.41,3.45],[2.32,2.35,2.38,2.41,2.44,2.47,2.50],
  [3.88,3.95,3.92,4.00,4.06,4.03,4.12,4.18],[4.05,4.12,4.16,4.22,4.27,4.33,4.38,4.45],
  [3.68,3.74,3.79,3.85,3.92,3.97,4.03],[3.66,3.70,3.76,3.80,3.86,3.90,3.96,4.00],
  [4.08,4.14,4.20,4.26,4.32,4.38],
  [1.62,1.64,1.66,1.68,1.70,1.72,1.74,1.76,1.78],[1.92,1.94,1.96,1.98,2.00,2.02,2.04,2.06,2.08],
  [2.18,2.20,2.22,2.24,2.26,2.28,2.30,2.32,2.34],[2.20,2.22,2.24,2.26,2.28,2.30,2.32,2.34,2.36],
  [2.55,2.58,2.60,2.63,2.65,2.68,2.70,2.73],[2.79,2.81,2.84,2.86,2.89,2.91,2.94,2.96],
  [2.92,2.94,2.97,2.99,3.02,3.04,3.07,3.09],[3.27,3.30,3.33,3.36,3.39,3.42,3.45],
  [3.50,3.53,3.56,3.59,3.62,3.65,3.68],[3.20,3.23,3.26,3.29,3.32,3.35,3.38],
  [2.02,2.04,2.06,2.08,2.10,2.12,2.14,2.16],[1.67,1.70,1.73,1.76,1.79,1.82],
  [2.69,2.72,2.75,2.78,2.81,2.84,2.87],[3.60,3.65,3.70,3.75,3.80],
  [1.52,1.54,1.56,1.58,1.60,1.62,1.64],[3.82,3.85,3.88,3.91,3.94,3.97]
];

const xTickValues = [0.1, 1, 10, 25];
const xTickLabels = ["0.1", "1", "10", "25"];
const yTickValues = [0, 1, 2, 3, 4, 5, 6];

const legendLeft  = ["post-hoc of PPK", "post-hoc of Mech-PPK"];
const legendRight = ["population estimate - PPK", "population estimate - Mech-PPK"];

const COL_PPK_PH   = "#bebebe";
const COL_MECH_PH  = "#4682b4";
const COL_PPK_POP  = "#4d4d4d";
const COL_MECH_POP = "#000080";

const svg = d3.select("#chart");
const FONT = 24;
const LEGEND_FONT = 25;

const x = d3.scaleLog().domain([0.1, 25]).range([166, 1147]);
const y = d3.scaleLinear().domain([0, 6]).range([717, 17]);

// plotting region (axes sit on its left and bottom edges)
const plotLeft = 128, plotRight = 1186, plotTop = -11, plotBottom = 745;

svg.append("clipPath").attr("id", "plotClip")
  .append("rect").attr("x", plotLeft).attr("y", plotTop)
  .attr("width", plotRight - plotLeft).attr("height", plotBottom - plotTop);

// flatten subject rows into observations
const obs = [];
subjectAges.forEach((ages, i) => {
  ages.forEach((a, j) => {
    obs.push({ age: a, ppk: clPPK[i] ? clPPK[i][j] : undefined, mech: clMech[i] ? clMech[i][j] : undefined });
  });
});

const scatter = svg.append("g").attr("clip-path", "url(#plotClip)");

// Mech-PPK post-hoc: open squares
const SQ = 6.8;
scatter.append("g").selectAll("rect")
  .data(obs.filter(d => d.mech !== undefined))
  .join("rect")
  .attr("x", d => x(d.age) - SQ / 2)
  .attr("y", d => y(d.mech) - SQ / 2)
  .attr("width", SQ).attr("height", SQ)
  .attr("fill", "none").attr("stroke", COL_MECH_PH).attr("stroke-width", 1.4);

// PPK post-hoc: open circles
scatter.append("g").selectAll("circle")
  .data(obs.filter(d => d.ppk !== undefined))
  .join("circle")
  .attr("cx", d => x(d.age)).attr("cy", d => y(d.ppk))
  .attr("r", 3.5)
  .attr("fill", "none").attr("stroke", COL_PPK_PH).attr("stroke-width", 1.8);

// population estimates: lines with gaps around each marker
function gappedSegments(ages, vals, gap) {
  const segs = [];
  for (let i = 0; i < ages.length - 1; i++) {
    const x0 = x(ages[i]), y0 = y(vals[i]), x1 = x(ages[i + 1]), y1 = y(vals[i + 1]);
    const dx = x1 - x0, dy = y1 - y0, len = Math.hypot(dx, dy);
    if (len <= 2 * gap) continue;
    const ux = dx / len, uy = dy / len;
    segs.push([x0 + ux * gap, y0 + uy * gap, x1 - ux * gap, y1 - uy * gap]);
  }
  return segs;
}

const popG = svg.append("g").attr("clip-path", "url(#plotClip)");

popG.append("g").selectAll("line")
  .data(gappedSegments(popAge, popPPK, 14))
  .join("line")
  .attr("x1", d => d[0]).attr("y1", d => d[1]).attr("x2", d => d[2]).attr("y2", d => d[3])
  .attr("stroke", COL_PPK_POP).attr("stroke-width", 5.5);

popG.append("g").selectAll("circle")
  .data(popAge.map((a, i) => ({ age: a, v: popPPK[i] })))
  .join("circle")
  .attr("cx", d => x(d.age)).attr("cy", d => y(d.v)).attr("r", 10.5)
  .attr("fill", COL_PPK_POP);

popG.append("g").selectAll("line")
  .data(gappedSegments(popAge, popMech, 14))
  .join("line")
  .attr("x1", d => d[0]).attr("y1", d => d[1]).attr("x2", d => d[2]).attr("y2", d => d[3])
  .attr("stroke", COL_MECH_POP).attr("stroke-width", 5.5);

const PSQ = 22;
popG.append("g").selectAll("rect")
  .data(popAge.map((a, i) => ({ age: a, v: popMech[i] })))
  .join("rect")
  .attr("x", d => x(d.age) - PSQ / 2).attr("y", d => y(d.v) - PSQ / 2)
  .attr("width", PSQ).attr("height", PSQ)
  .attr("fill", COL_MECH_POP);

// y axis
const yAxis = svg.append("g")
  .attr("transform", `translate(${plotLeft},0)`)
  .call(d3.axisLeft(y).tickValues(yTickValues).tickFormat(d3.format("d")).tickSize(14).tickSizeOuter(0));
yAxis.selectAll("path, line").attr("stroke", "#000").attr("stroke-width", 1.3);
yAxis.selectAll("text")
  .attr("x", 0).attr("dy", 0)
  .attr("transform", "translate(-35,0) rotate(-90)")
  .attr("text-anchor", "middle")
  .style("font-size", FONT + "px").attr("font-family", null).attr("fill", "#000");

// x axis
const xAxis = svg.append("g")
  .attr("transform", `translate(0,${plotBottom})`)
  .call(d3.axisBottom(x).tickValues(xTickValues).tickFormat((d, i) => xTickLabels[i]).tickSize(15).tickSizeOuter(0));
xAxis.selectAll("path, line").attr("stroke", "#000").attr("stroke-width", 1.3);
xAxis.selectAll("text")
  .attr("y", 56).attr("dy", 0)
  .style("font-size", FONT + "px").attr("font-family", null).attr("fill", "#000");

// axis titles
svg.append("text")
  .attr("transform", `translate(33,${(plotTop + plotBottom) / 2}) rotate(-90)`)
  .attr("text-anchor", "middle").style("font-size", FONT + "px")
  .text("CL/F of risdiplam");

svg.append("text")
  .attr("x", (plotLeft + plotRight) / 2).attr("y", 861)
  .attr("text-anchor", "middle").style("font-size", FONT + "px")
  .text("Age (y)");

// legend
const legend = svg.append("g");
const rowY = [47, 78];
legend.append("circle").attr("cx", 190).attr("cy", rowY[0]).attr("r", 5)
  .attr("fill", "none").attr("stroke", COL_PPK_PH).attr("stroke-width", 1.6);
legend.append("rect").attr("x", 185).attr("y", rowY[1] - 5).attr("width", 10).attr("height", 10)
  .attr("fill", "none").attr("stroke", COL_MECH_PH).attr("stroke-width", 1.6);
legend.append("circle").attr("cx", 596).attr("cy", rowY[0]).attr("r", 5.5)
  .attr("fill", COL_PPK_POP);
legend.append("rect").attr("x", 590.5).attr("y", rowY[1] - 5.5).attr("width", 11).attr("height", 11)
  .attr("fill", COL_MECH_POP);

legend.selectAll("text.l").data(legendLeft).join("text").attr("class", "l")
  .attr("x", 212).attr("y", (d, i) => rowY[i] + 9)
  .style("font-size", LEGEND_FONT + "px").text(d => d);
legend.selectAll("text.r").data(legendRight).join("text").attr("class", "r")
  .attr("x", 617).attr("y", (d, i) => rowY[i] + 9)
  .style("font-size", LEGEND_FONT + "px").text(d => d);
</script>
</body>
</html>
